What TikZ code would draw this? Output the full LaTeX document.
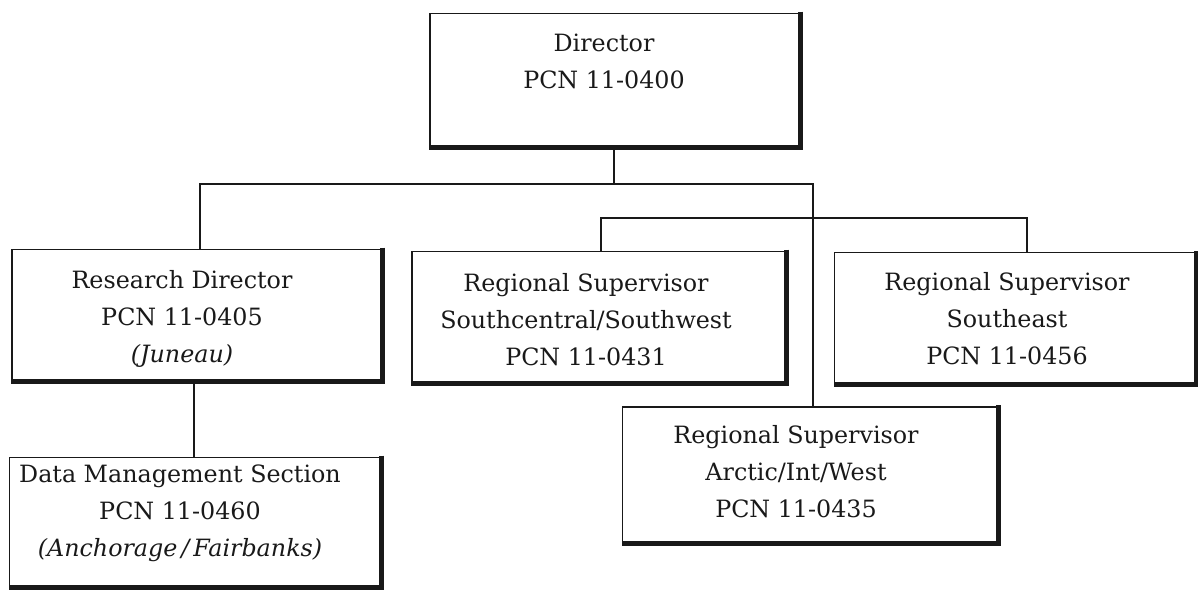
\documentclass[tikz,border=0pt]{standalone}
\usepackage{fontspec}
\setmainfont{DejaVu Serif}
\begin{document}
\begin{tikzpicture}[x=1pt,y=-1pt,
  orgbox/.style={draw=black!90, line width=1.6pt, inner sep=0pt},
  boxtext/.style={align=center, inner sep=0pt,
    font=\fontsize{23.8}{37}\selectfont, text=black!90},
  shadowedge/.style={draw=black!90, line width=5pt, line cap=square},
  conn/.style={draw=black!90, line width=2pt}]
\useasboundingbox (0,0) rectangle (1198,589);

% position boxes
\node[orgbox, minimum width=370pt, minimum height=133pt] (dir) at (615,80) {};
\node[orgbox, minimum width=370pt, minimum height=131pt] (res) at (197,315) {};
\node[orgbox, minimum width=374pt, minimum height=131pt] (sc) at (599,317) {};
\node[orgbox, minimum width=361pt, minimum height=131pt] (se) at (1015,318) {};
\node[orgbox, minimum width=375pt, minimum height=136pt] (arc) at (810,475) {};
\node[orgbox, minimum width=371pt, minimum height=129pt] (dm) at (195,522) {};

% titles inside the boxes
\node[boxtext] (dirT) at ([xshift=-11pt,yshift=19pt]dir.center) {Director\\PCN 11-0400};
\node[boxtext] (resT) at ([xshift=-15pt,yshift=-4pt]res.center)
  {Research Director\\PCN 11-0405\\\textit{(Juneau)}};
\node[boxtext] (scT) at ([xshift=-13pt,yshift=-3pt]sc.center)
  {Regional Supervisor\\Southcentral/Southwest\\PCN 11-0431};
\node[boxtext] (seT) at ([xshift=-8pt,yshift=-1pt]se.center)
  {Regional Supervisor\\Southeast\\PCN 11-0456};
\node[boxtext] (arcT) at ([xshift=-14pt,yshift=3pt]arc.center)
  {Regional Supervisor\\Arctic/Int/West\\PCN 11-0435};
\node[boxtext] (dmT) at ([xshift=-15pt,yshift=9pt]dm.center)
  {Data Management Section\\PCN 11-0460\\\textit{(Anchorage\,/\,Fairbanks)}};

% heavy right and bottom edges
\foreach \n in {dir,res,sc,se,arc,dm}
  \draw[shadowedge] ([yshift=1pt]\n.north east) -- (\n.south east) -- (\n.south west);

% reporting lines
\coordinate (bus) at (614,184);
\coordinate (sub) at (813,218);
\draw[conn] ([xshift=-1pt]dir.south) -- (bus);
\draw[conn] ([xshift=3pt]res.north) |- (bus) -| ([xshift=3pt]arc.north);
\draw[conn] ([xshift=2pt]sc.north) |- (sub) -| ([xshift=12pt]se.north);
\draw[conn] ([xshift=-3pt]res.south) -- ([xshift=-3pt]res.south |- dm.north);
\end{tikzpicture}
\end{document}
